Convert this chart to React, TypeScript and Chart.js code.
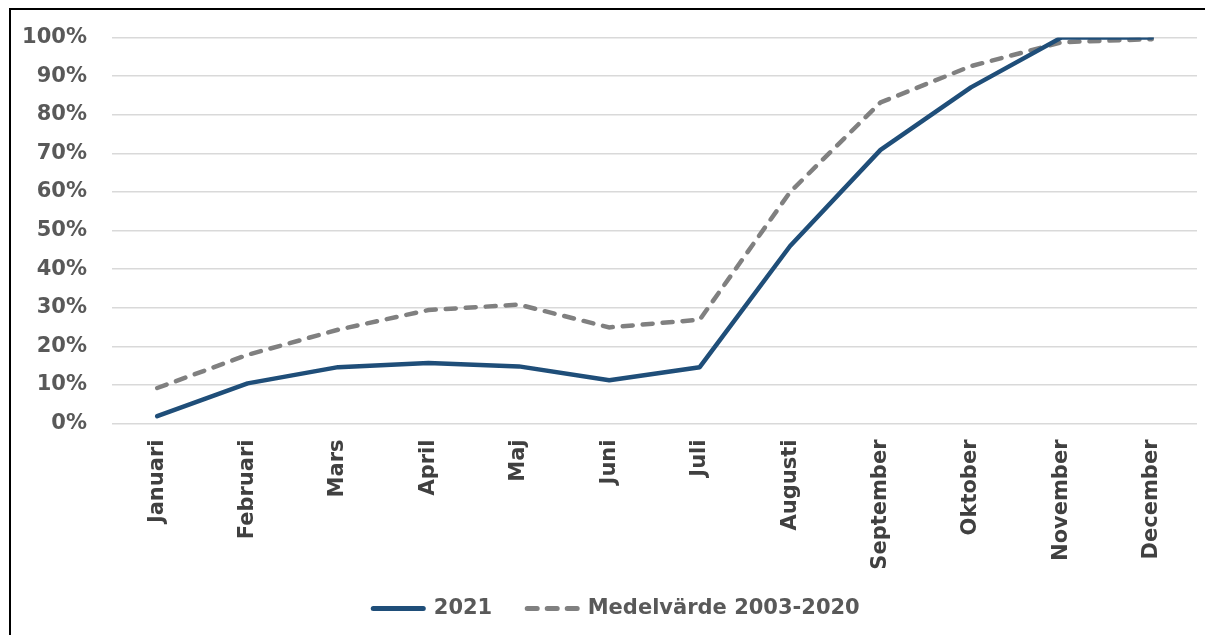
import React, { useEffect, useRef } from "react";
import { Chart, registerables } from "chart.js";

Chart.register(...registerables);

const months = [
  "Januari", "Februari", "Mars", "April", "Maj", "Juni",
  "Juli", "Augusti", "September", "Oktober", "November", "December",
];
const values2021 = [1.9, 10.4, 14.6, 15.7, 14.8, 11.2, 14.6, 46.0, 70.9, 87.1, 100, 100];
const averageValues = [9.2, 17.8, 24.3, 29.4, 30.8, 24.9, 26.9, 60.0, 83.2, 92.6, 98.8, 99.6];
const seriesNames = ["2021", "Medelvärde 2003-2020"];

const FONT = "'DejaVu Sans', sans-serif";

const layoutTweaks = {
  id: "layoutTweaks",
  afterLayout(chart: any) {
    const legend = chart.legend;
    const xScale = chart.scales.x;
    if (legend) {
      legend.left += 18;
      legend.right += 18;
    }
    if (xScale && legend) {
      // let rotated month labels extend into the space above the legend row
      xScale.bottom = legend.bottom - 30;
    }
  },
};

export default function App() {
  const ref = useRef<HTMLCanvasElement | null>(null);

  useEffect(() => {
    if (!ref.current) return;
    const chart = new Chart(ref.current, {
      type: "line",
      data: {
        labels: months,
        datasets: [
          {
            label: seriesNames[0],
            data: values2021,
            borderColor: "#1F4E79",
            backgroundColor: "#1F4E79",
            borderWidth: 4.5,
            pointRadius: 0,
            tension: 0,
            borderCapStyle: "round",
            borderJoinStyle: "round",
          },
          {
            label: seriesNames[1],
            data: averageValues,
            borderColor: "#808080",
            backgroundColor: "#808080",
            borderWidth: 4.5,
            borderDash: [10, 10],
            borderCapStyle: "round",
            pointRadius: 0,
            tension: 0,
          },
        ],
      },
      plugins: [layoutTweaks],
      options: {
        responsive: false,
        animation: false,
        events: [],
        layout: { padding: { left: 0, right: 8, top: 36, bottom: 6 } },
        plugins: {
          tooltip: { enabled: false },
          legend: {
            position: "bottom",
            labels: {
              usePointStyle: true,
              pointStyle: "line",
              pointStyleWidth: 50,
              padding: 35,
              color: "#595959",
              font: { family: FONT, size: 21, weight: "bold" },
              generateLabels: (c: any) => {
                const items = Chart.defaults.plugins.legend.labels.generateLabels(c);
                return items.map((it: any) => {
                  const ds: any = c.data.datasets[it.datasetIndex];
                  return {
                    ...it,
                    lineDash: ds.borderDash || [],
                    lineCap: "round",
                    lineWidth: 5,
                    strokeStyle: ds.borderColor,
                    fillStyle: ds.borderColor,
                  };
                });
              },
            },
          },
        },
        scales: {
          x: {
            offset: true,
            grid: { display: false, drawTicks: false },
            border: { display: false },
            ticks: {
              minRotation: 90,
              maxRotation: 90,
              padding: 16,
              color: "#404040",
              font: { family: FONT, size: 21, weight: "bold" },
            },
            afterFit: (scale: any) => {
              scale.height = 139.5;
            },
          },
          y: {
            min: 0,
            max: 100,
            grid: { color: "#D9D9D9", lineWidth: 1.5, drawTicks: false },
            border: { display: false },
            ticks: {
              stepSize: 10,
              padding: 25,
              color: "#595959",
              font: { family: FONT, size: 21, weight: "bold" },
              callback: (v: any) => v + "%",
            },
            afterFit: (scale: any) => {
              scale.width = 112;
            },
          },
        },
      },
    });
    return () => chart.destroy();
  }, []);

  return (
    <div style={{ position: "fixed", left: 0, top: 0, width: 1205, height: 635, overflow: "hidden", background: "#fff" }}>
      <canvas ref={ref} width={1205} height={635} style={{ position: "absolute", left: 0, top: 0, width: 1205, height: 635 }} />
      <div
        style={{
          position: "absolute",
          left: 9,
          top: 8,
          width: 1300,
          height: 700,
          border: "2px solid #000",
          boxSizing: "border-box",
          pointerEvents: "none",
        }}
      />
    </div>
  );
}
